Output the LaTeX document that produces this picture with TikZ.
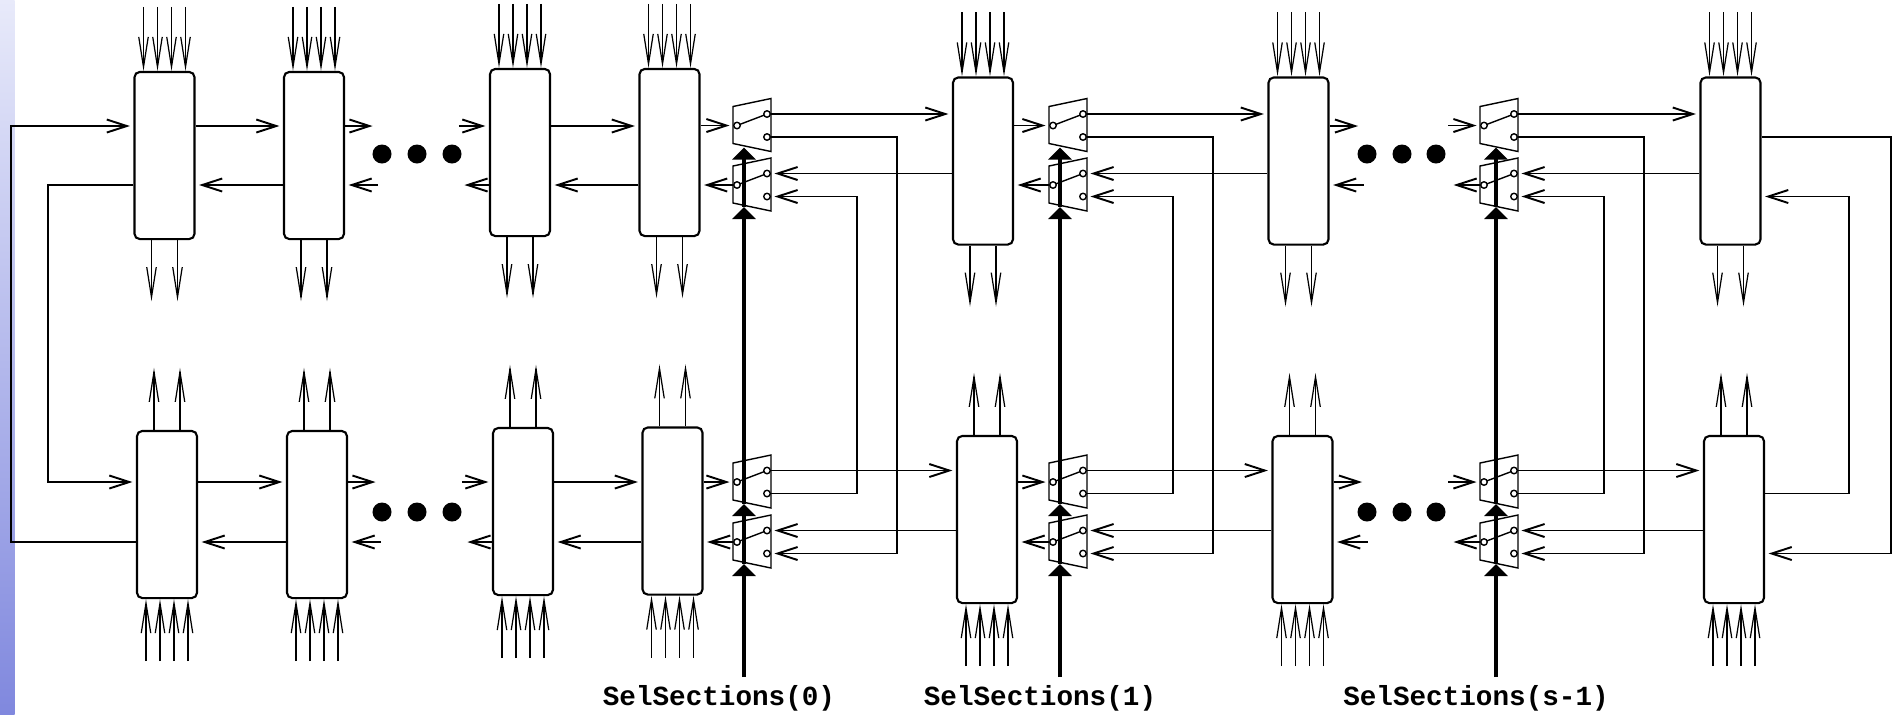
\documentclass[tikz,border=0pt]{standalone}
\usepackage{fontspec}
\setmonofont{Liberation Mono}
\usetikzlibrary{arrows.meta,calc}

\definecolor{stripTop}{RGB}{232,234,250}
\definecolor{stripBot}{RGB}{128,136,222}

\tikzstyle{stage} = [rectangle, draw, rounded corners=1.5pt, minimum width=0.6cm, minimum height=1.67cm, inner sep=0pt, line width=0.6pt]
\tikzstyle{conn} = [draw, line width=0.55pt, -{Straight Barb[length=2mm,width=1.3mm]}, shorten >=1pt]
\tikzstyle{inp} = [draw, line width=0.35pt, -{Straight Barb[length=3mm,width=0.95mm]}]
\tikzstyle{sel} = [draw, line width=1.3pt, -{Triangle[length=1.2mm,width=2.3mm]}]
\tikzstyle{swline} = [draw, line width=0.4pt]
\tikzstyle{contact} = [circle, draw, fill=white, line width=0.4pt, minimum size=0.065cm, inner sep=0pt]
\tikzstyle{selname} = [font=\ttfamily\bfseries\fontsize{7.86pt}{9pt}\selectfont, inner sep=0pt, anchor=base]

\begin{document}
\begin{tikzpicture}[x=0.01cm, y=-0.01cm]
        \tikzset{switch/.pic={
            \draw[swline] (-4,-19) -- (34,-27) -- (34,26) -- (-4,18) -- cycle;
            \draw[swline] (2.8,-1.1) -- (27.2,-10.4);
            \node[contact] (-in) at (0,0) {};
            \node[contact] (-a) at (30,-11.5) {};
            \node[contact] (-b) at (30,11.5) {};
            \coordinate (-bot) at (9,22);
        }}
        \useasboundingbox (0,0) rectangle (1897,714);
        \shade[top color=stripTop, bottom color=stripBot] (0,0) rectangle (14.7,714);

        % sections of the upper (A) and lower (B) row
        \foreach \n/\x/\y in {A1/164.5/155.5, A2/314/155.5, A3/520/152.5, A4/669.5/152.5,
                A5/983/161, A6/1298.5/161, A7/1730.5/161}
            \node[stage] (\n) at (\x,\y) {};
        \foreach \n/\x/\y in {B1/167/514.5, B2/317/514.5, B3/523/511.5, B4/672.5/511,
                B5/987/519.5, B6/1302.5/519.5, B7/1734/519.5}
            \node[stage] (\n) at (\x,\y) {};

        \foreach \n in {A1,A2,A3,A4,A5,A6,A7} {
            \foreach \dx in {-21,-7,7,21}
                \draw[inp] ($(\n.north)+(\dx,-64)$) -- ($(\n.north)+(\dx,0)$);
            \foreach \dx in {-13,13}
                \draw[inp] ($(\n.south)+(\dx,0)$) -- ($(\n.south)+(\dx,61)$);
        }
        \foreach \n in {B1,B2,B3,B4,B5,B6,B7} {
            \foreach \dx in {-13,13}
                \draw[inp] ($(\n.north)+(\dx,0)$) -- ($(\n.north)+(\dx,-62)$);
            \foreach \dx in {-21,-7,7,21}
                \draw[inp] ($(\n.south)+(\dx,62)$) -- ($(\n.south)+(\dx,0)$);
        }

        \coordinate (fwdA) at (0,126);
        \coordinate (retA) at (0,185);
        \coordinate (fwdB) at (0,482);
        \coordinate (retB) at (0,542);

        % switch pairs
        \foreach \k/\x in {0/737,1/1053,2/1484} {
            \pic (sA\k) at (\x,125.5) {switch};
            \pic (rA\k) at (\x,185) {switch};
            \pic (sB\k) at (\x,482) {switch};
            \pic (rB\k) at (\x,542) {switch};
        }

        \foreach \r in {A,B} {
            \draw[conn] (\r1.east |- fwd\r) -- (\r2.west |- fwd\r);
            \draw[conn] (\r2.west |- ret\r) -- (\r1.east |- ret\r);
            \draw[conn] (\r2.east |- fwd\r) -- ++(31,0);
            \draw[conn] ($(\r2.east |- ret\r)+(33,0)$) -- (\r2.east |- ret\r);
            \draw[conn] ($(\r3.west |- fwd\r)+(-30,0)$) -- (\r3.west |- fwd\r);
            \draw[conn] (\r3.west |- ret\r) -- ++(-28,0);
            \draw[conn] (\r3.east |- fwd\r) -- (\r4.west |- fwd\r);
            \draw[conn] (\r4.west |- ret\r) -- (\r3.east |- ret\r);
            % section 0
            \draw[conn] (\r4.east |- s\r0-in) -- (s\r0-in);
            \draw[conn] (r\r0-in) -- (\r4.east |- r\r0-in);
            \draw[conn] (s\r0-a) -- (\r5.west |- s\r0-a);
            \draw[conn] (\r5.west |- r\r0-a) -- (r\r0-a);
            % section 1
            \draw[conn] (\r5.east |- s\r1-in) -- (s\r1-in);
            \draw[conn] (r\r1-in) -- (\r5.east |- r\r1-in);
            \draw[conn] (s\r1-a) -- (\r6.west |- s\r1-a);
            \draw[conn] (\r6.west |- r\r1-a) -- (r\r1-a);
            \draw[conn] (\r6.east |- fwd\r) -- ++(32,0);
            \draw[conn] ($(\r6.east |- ret\r)+(34,0)$) -- (\r6.east |- ret\r);
            % section s-1
            \draw[conn] ($(s\r2-in)+(-36,0)$) -- (s\r2-in);
            \draw[conn] (r\r2-in) -- ++(-34,0);
            \draw[conn] (s\r2-a) -- (\r7.west |- s\r2-a);
            \draw[conn] (\r7.west |- r\r2-a) -- (r\r2-a);
        }

        % crossings between the rows
        \foreach \k in {0,1,2} {
            \draw[conn] (sB\k-b) -- ++(90,0) |- (rA\k-b);
            \draw[conn] (sA\k-b) -- ++(130,0) |- (rB\k-b);
        }
        \draw[conn] (B1.west |- retB) -- ++(-125,0) |- (A1.west |- fwdA);
        \draw[conn] (A1.west |- retA) -- ++(-85,0) |- (B1.west |- fwdB);
        \draw[conn] (A7.east |- sA2-b) -- ++(129,0) |- (B7.east |- rB2-b);
        \draw[conn] (B7.east |- sB2-b) -- ++(84,0) |- (A7.east |- rA2-b);

        \foreach \x in {382,417,452,1367,1402,1436}
            \foreach \y in {154,512}
                \fill (\x,\y) circle (0.095cm);

        % selection lines
        \node[selname] (lab0) at (719,705) {SelSections(0)};
        \node[selname] (lab1) at (1040,705) {SelSections(1)};
        \node[selname] (lab2) at (1476,705) {SelSections(s-1)};
        \foreach \k/\x in {0/744,1/1060,2/1496} {
            \coordinate (sel\k) at (\x,677);
            \draw[sel] (sel\k) -- (sel\k |- rB\k-bot);
            \draw[sel] (sel\k |- rB\k-bot) -- (sel\k |- sB\k-bot);
            \draw[sel] (sel\k |- sB\k-bot) -- (sel\k |- rA\k-bot);
            \draw[sel] (sel\k |- rA\k-bot) -- (sel\k |- sA\k-bot);
        }
    \end{tikzpicture}
\end{document}
